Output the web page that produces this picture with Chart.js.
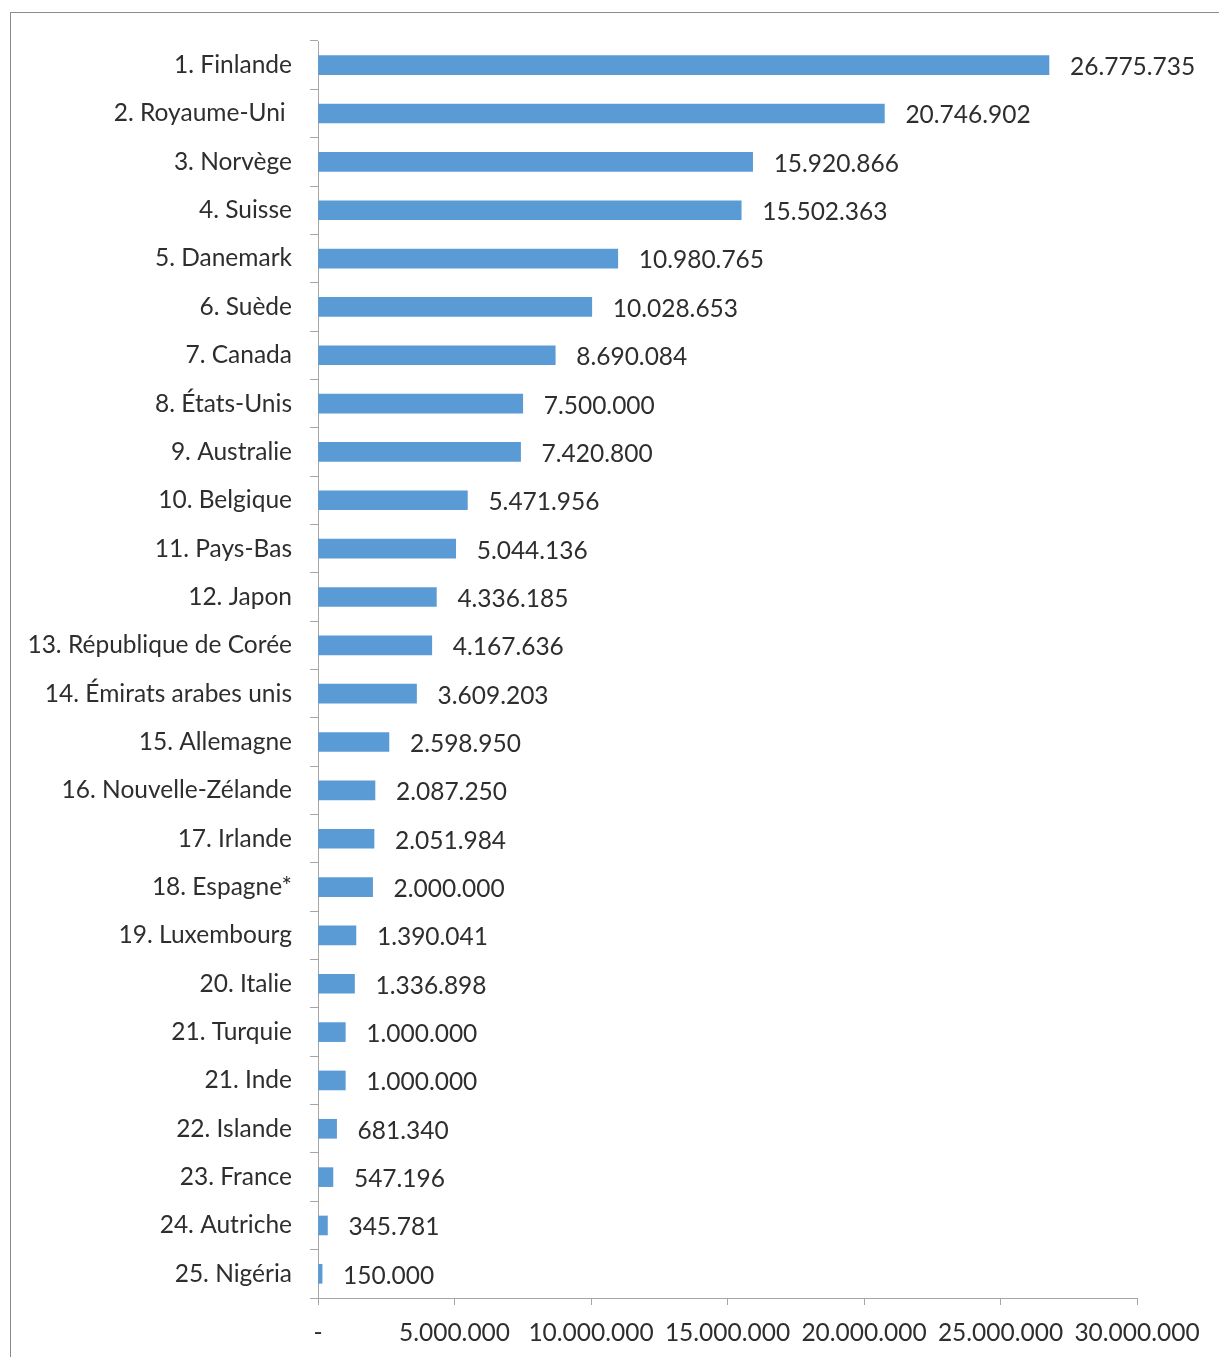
<!DOCTYPE html>
<html>
<head>
<meta charset="utf-8">
<script src="https://cdn.jsdelivr.net/npm/chart.js@4"></script>
<style>
  html, body { margin: 0; padding: 0; background: #fff; }
  #wrap { position: relative; width: 1219px; height: 1357px; overflow: hidden; }
  #frame { position: absolute; left: 10px; top: 12px; width: 1220px; height: 1360px; border: 1px solid #8c8c8c; box-sizing: border-box; }
  canvas { position: absolute; left: 0; top: 0; }
</style>
</head>
<body>
<div id="wrap">
  <div id="frame"></div>
  <canvas id="grafico" width="1219" height="1357"></canvas>
</div>
<script>
let pays = [
  "1. Finlande", "2. Royaume-Uni ", "3. Norvège", "4. Suisse", "5. Danemark",
  "6. Suède", "7. Canada", "8. États-Unis", "9. Australie", "10. Belgique",
  "11. Pays-Bas", "12. Japon", "13. République de Corée", "14. Émirats arabes unis",
  "15. Allemagne", "16. Nouvelle-Zélande", "17. Irlande", "18. Espagne*",
  "19. Luxembourg", "20. Italie", "21. Turquie", "21. Inde", "22. Islande",
  "23. France", "24. Autriche", "25. Nigéria"
];
let valeurs = [
  26775735, 20746902, 15920866, 15502363, 10980765,
  10028653, 8690084, 7500000, 7420800, 5471956,
  5044136, 4336185, 4167636, 3609203,
  2598950, 2087250, 2051984, 2000000,
  1390041, 1336898, 1000000, 1000000, 681340,
  547196, 345781, 150000
];
let xMax = 30000000;
let xPas = 5000000;

function formater(n) {
  if (n === 0) return "-";
  return String(Math.round(n)).replace(/\B(?=(\d{3})+(?!\d))/g, ".");
}

let police = "Lato";
let taille = 24.5;
let couleurTexte = "#2e2e2e";

// etiquettes de valeur a droite des barres
let etiquettes = {
  id: "etiquettes",
  afterDatasetsDraw(chart) {
    let ctx = chart.ctx;
    let meta = chart.getDatasetMeta(0);
    ctx.save();
    ctx.font = taille + "px " + police;
    ctx.fillStyle = couleurTexte;
    ctx.textAlign = "left";
    ctx.textBaseline = "middle";
    meta.data.forEach((bar, i) => {
      ctx.fillText(formater(valeurs[i]), bar.x + 21, bar.y + 2);
    });
    ctx.restore();
  }
};

new Chart(document.getElementById("grafico"), {
  type: "bar",
  data: {
    labels: pays,
    datasets: [{
      data: valeurs,
      backgroundColor: "#5b9bd5",
      barThickness: 19
    }]
  },
  options: {
    indexAxis: "y",
    responsive: false,
    animation: false,
    layout: { padding: { top: 41, right: 82, left: 0, bottom: 0 } },
    plugins: { legend: { display: false }, tooltip: { enabled: false } },
    scales: {
      x: {
        min: 0,
        max: xMax,
        ticks: {
          stepSize: xPas,
          callback: v => formater(v),
          font: { family: police, size: taille },
          color: couleurTexte,
          maxRotation: 0,
          padding: 13
        },
        grid: { drawOnChartArea: false, tickLength: 7, color: "#a6a6a6" },
        border: { color: "#a6a6a6" },
        afterFit: s => { s.height = 1357 - 1298; }
      },
      y: {
        ticks: {
          font: { family: police, size: taille },
          color: couleurTexte,
          padding: 18
        },
        grid: { drawOnChartArea: false, offset: true, tickLength: 8, color: "#a6a6a6" },
        border: { color: "#a6a6a6" },
        afterFit: s => { s.width = 318; }
      }
    }
  },
  plugins: [etiquettes]
});
</script>
</body>
</html>
